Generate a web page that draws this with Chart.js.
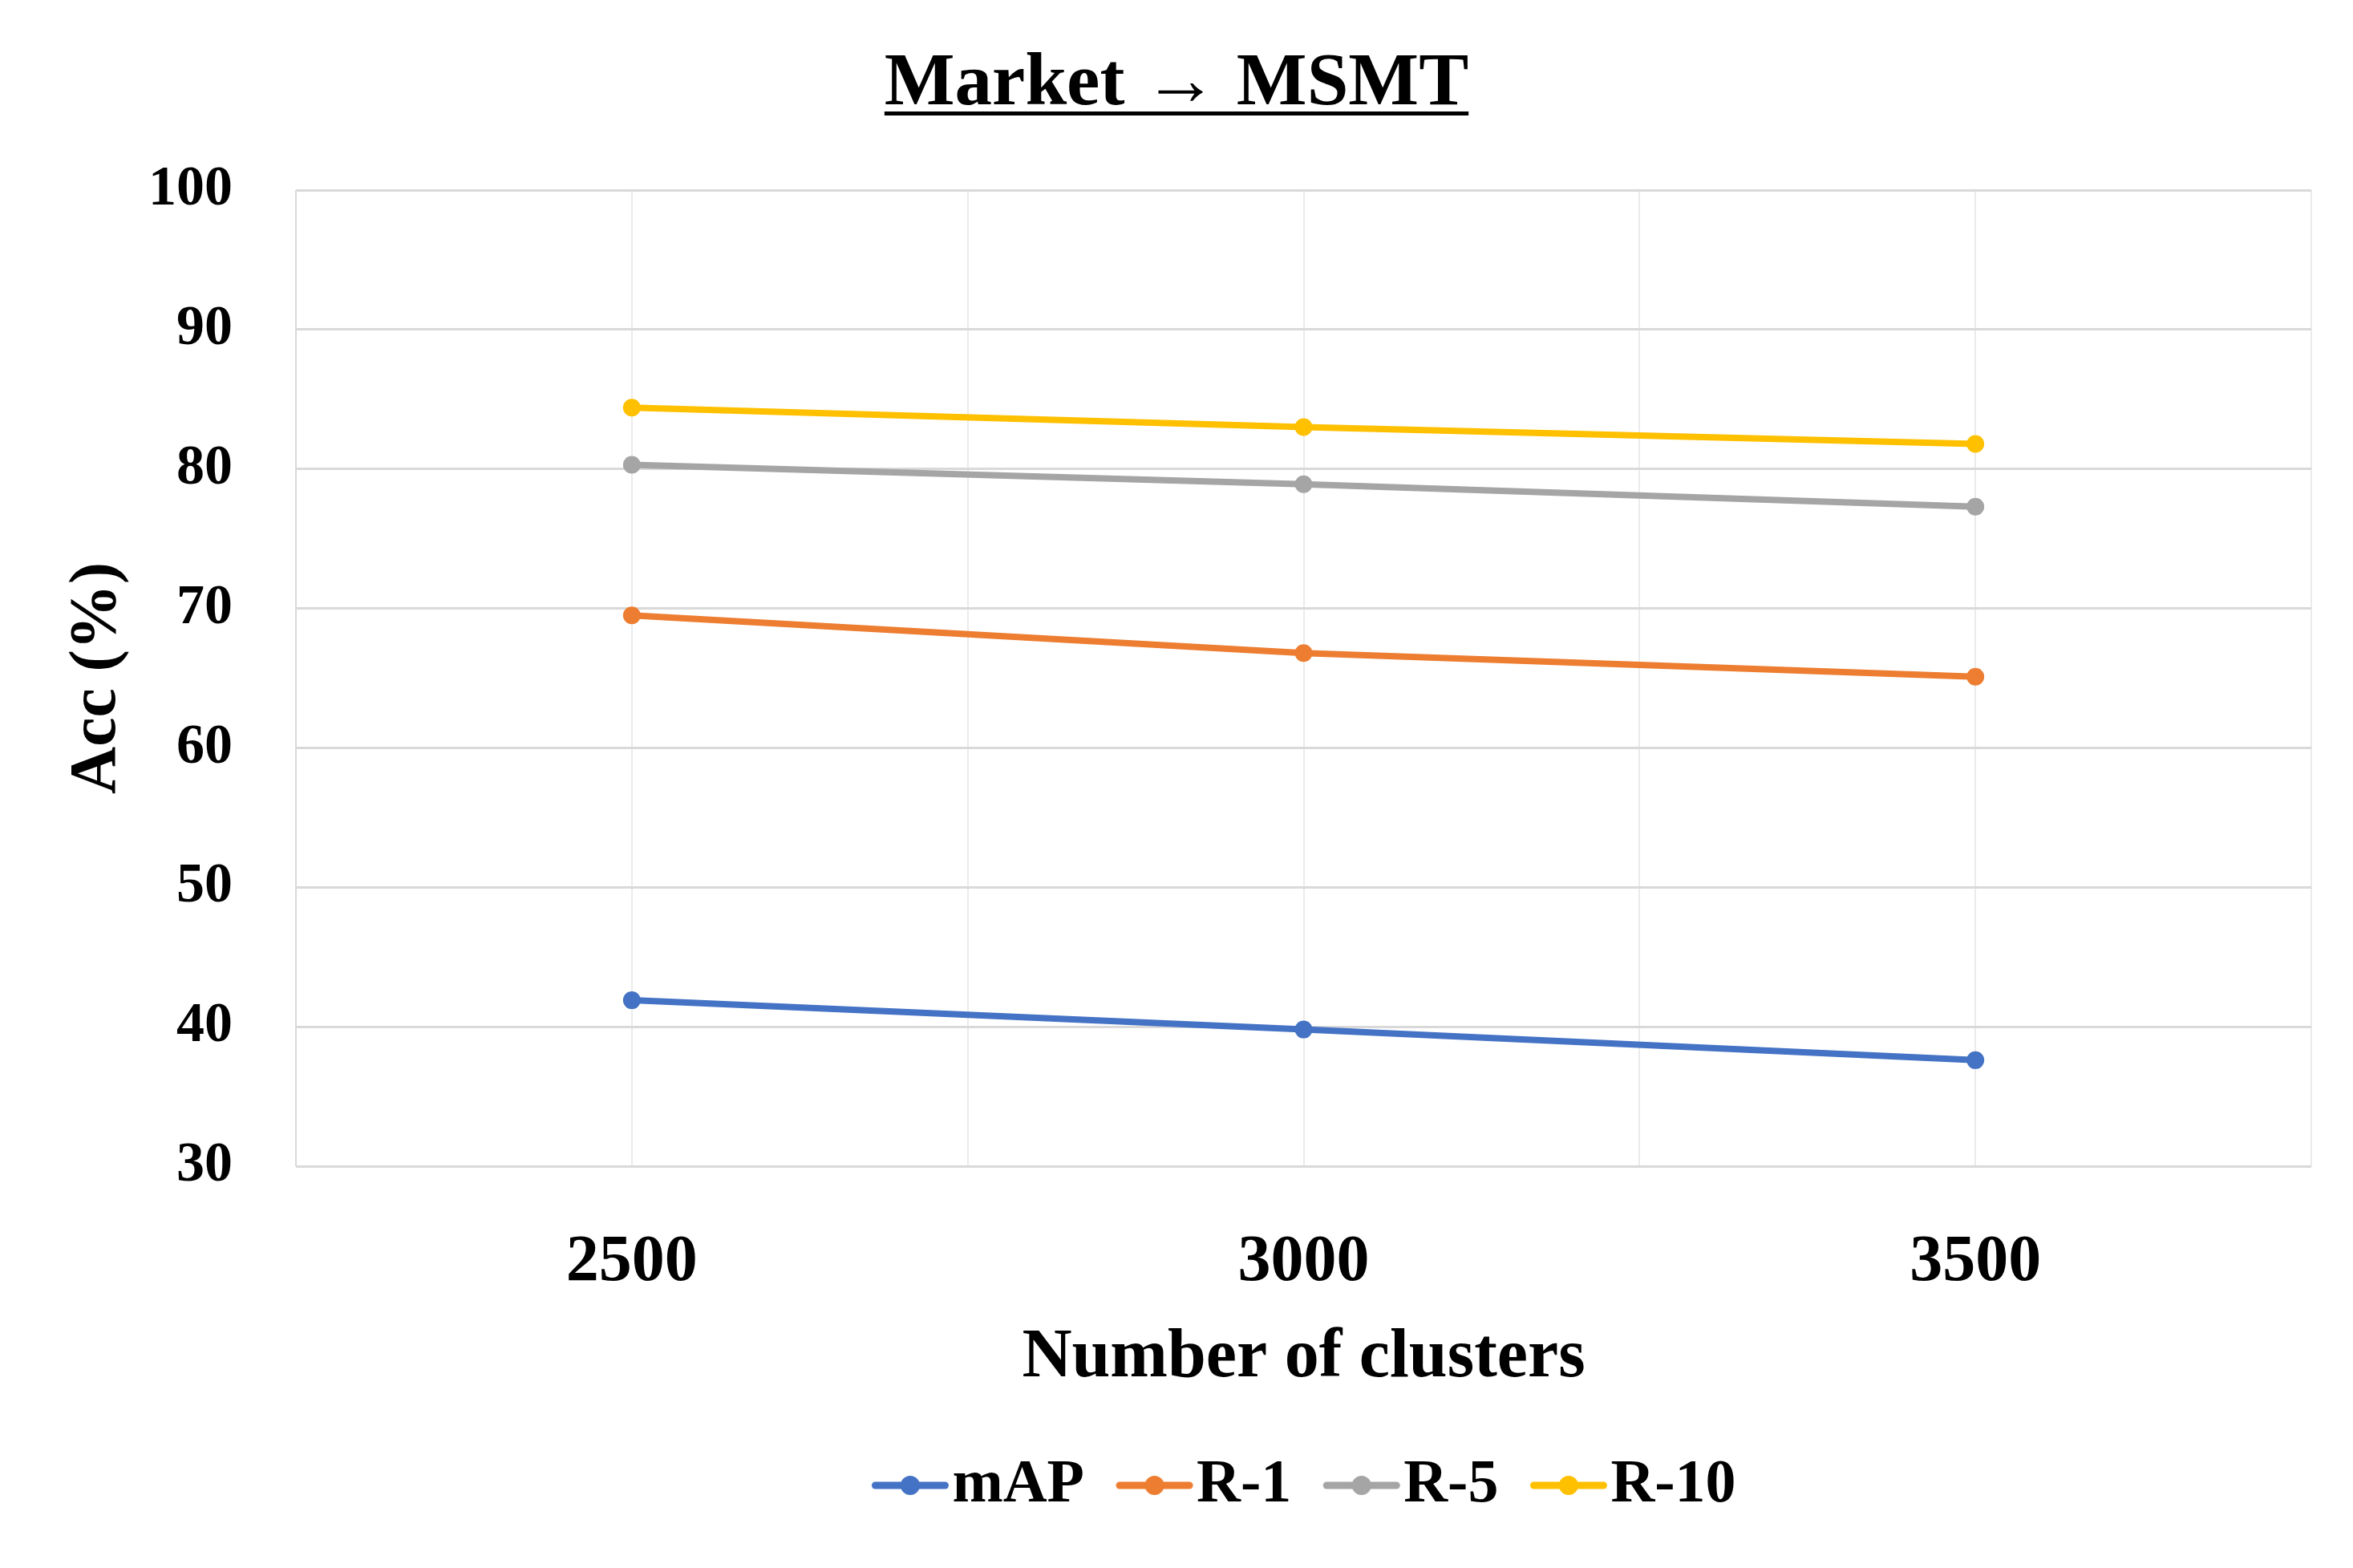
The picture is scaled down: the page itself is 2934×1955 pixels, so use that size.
<!DOCTYPE html>
<html>
<head>
<meta charset="utf-8">
<script src="https://cdn.jsdelivr.net/npm/chart.js@4.4.1/dist/chart.umd.min.js"></script>
<style>
    html, body { margin: 0; padding: 0; background: #fff; }
    #wrap { width: 2934px; height: 1955px; }
</style>
</head>
<body>
<div id="wrap"><canvas id="accChart" width="2934" height="1955"></canvas></div>
<script>
// ===== DATA =====
const chartTitle = "Market \u2192 MSMT";
const clusters = [2500, 3000, 3500];
const mapValues = [41.9, 39.8, 37.6];
const r1Values = [69.5, 66.8, 65.1];
const r5Values = [80.3, 78.9, 77.3];
const r10Values = [84.4, 83.0, 81.8];
const yTicks = [30, 40, 50, 60, 70, 80, 90, 100];

const seriesNames = ["mAP", "R-1", "R-5", "R-10"];
const seriesColors = ["#4472C4", "#ED7D31", "#A5A5A5", "#FFC000"];
const seriesValues = [mapValues, r1Values, r5Values, r10Values];

const FONT = "'Liberation Serif', 'Times New Roman', serif";

// legend icon: short line with a dot in the middle
function legendIcon(color) {
    const c = document.createElement("canvas");
    c.width = 132;
    c.height = 30;
    const g = c.getContext("2d");
    const x0 = 34.5 + 5, x1 = 34.5 + 92;
    g.strokeStyle = color;
    g.lineWidth = 9;
    g.lineCap = "round";
    g.beginPath();
    g.moveTo(x0, 15);
    g.lineTo(x1, 15);
    g.stroke();
    g.fillStyle = color;
    g.beginPath();
    g.arc(34.5 + 48.5, 15, 12, 0, Math.PI * 2);
    g.fill();
    return c;
}
const legendIcons = seriesColors.map(legendIcon);

// title with underline, centred on the canvas
const titlePlugin = {
    id: "underlinedTitle",
    afterDraw(chart) {
        const ctx = chart.ctx;
        ctx.save();
        ctx.font = "bold 93px " + FONT;
        ctx.fillStyle = "#000";
        ctx.textAlign = "center";
        ctx.textBaseline = "alphabetic";
        const cx = chart.width / 2;
        ctx.fillText(chartTitle, cx, 130);
        const w = ctx.measureText(chartTitle).width;
        ctx.fillRect(cx - w / 2, 139, w, 5);
        ctx.restore();
    },
};

const datasets = seriesNames.map((name, i) => ({
    label: name,
    data: clusters.map((c, j) => ({ x: c, y: seriesValues[i][j] })),
    borderColor: seriesColors[i],
    backgroundColor: seriesColors[i],
    pointBackgroundColor: seriesColors[i],
    pointBorderColor: seriesColors[i],
    borderWidth: 8,
    pointRadius: 11,
    pointBorderWidth: 0,
    tension: 0,
    fill: false,
}));

new Chart(document.getElementById("accChart"), {
    type: "line",
    data: { datasets },
    plugins: [titlePlugin],
    options: {
        responsive: false,
        animation: false,
        devicePixelRatio: 1,
        layout: { padding: { top: 237, right: 52, bottom: 55, left: 0 } },
        plugins: {
            title: { display: false },
            tooltip: { enabled: false },
            legend: {
                position: "bottom",
                fullSize: false,
                labels: {
                    usePointStyle: true,
                    pointStyleWidth: 63,
                    padding: 39,
                    color: "#000",
                    font: { family: FONT, size: 76, weight: "bold" },
                    generateLabels(chart) {
                        const items = Chart.defaults.plugins.legend.labels.generateLabels(chart);
                        items.forEach((it, i) => {
                            it.pointStyle = legendIcons[i];
                            it.fontColor = "#000";
                        });
                        return items;
                    },
                },
            },
        },
        scales: {
            x: {
                type: "linear",
                min: 2250,
                max: 3750,
                afterFit(scale) { scale.height = 321; },
                ticks: {
                    stepSize: 250,
                    padding: 0,
                    color: "#000",
                    font: { family: FONT, size: 82, weight: "bold" },
                    callback: (v) => (clusters.includes(v) ? String(v) : ""),
                },
                grid: {
                    drawTicks: true,
                    tickLength: 72,
                    tickColor: "rgba(0,0,0,0)",
                    lineWidth: 2,
                    color: (c) => (c.index === 0 ? "#D9D9D9" : "#EBEBEB"),
                },
                border: { display: false },
                title: {
                    display: true,
                    text: "Number of clusters",
                    color: "#000",
                    padding: { top: 0, bottom: 30 },
                    font: { family: FONT, size: 86, weight: "bold" },
                },
            },
            y: {
                min: yTicks[0],
                max: yTicks[yTicks.length - 1],
                afterFit(scale) { scale.width = 369; },
                afterBuildTicks(scale) {
                    scale.ticks = yTicks.map((v) => ({ value: v }));
                },
                ticks: {
                    padding: 79,
                    color: "#000",
                    font: { family: FONT, size: 70, weight: "bold" },
                },
                grid: {
                    drawTicks: false,
                    lineWidth: 3,
                    color: "#D9D9D9",
                },
                border: { display: false },
                title: {
                    display: true,
                    text: "Acc (%)",
                    color: "#000",
                    padding: { top: 73, bottom: 0 },
                    font: { family: FONT, size: 82, weight: "bold" },
                },
            },
        },
    },
});
</script>
</body>
</html>
